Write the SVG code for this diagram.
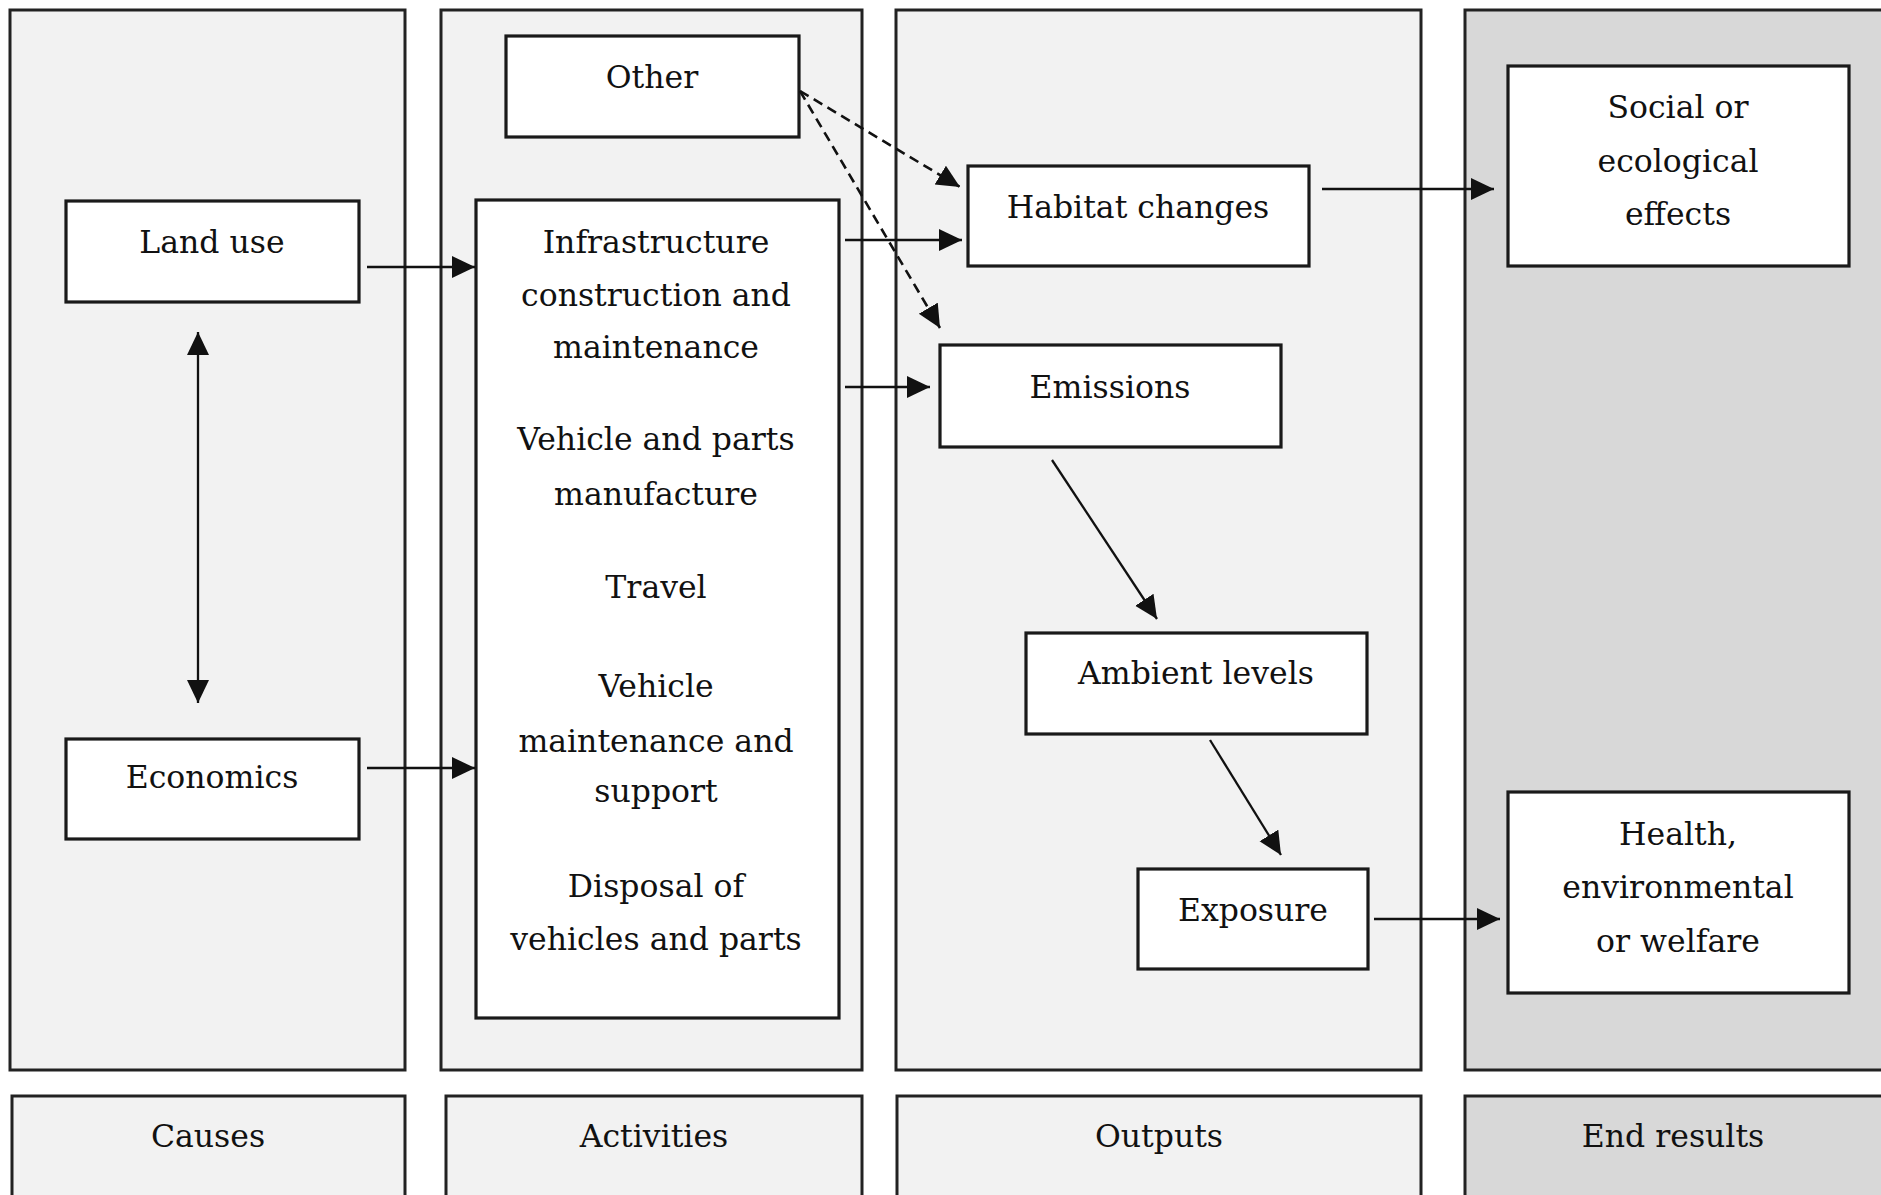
<svg xmlns="http://www.w3.org/2000/svg" width="1881" height="1195" viewBox="0 0 1881 1195">
<style>
.panel{fill:#f2f2f2;stroke:#222;stroke-width:3}
.panel.dark{fill:#d8d8d8}
.box{fill:#fff;stroke:#1a1a1a;stroke-width:3.2}
text{font-family:"DejaVu Serif","Liberation Serif",serif;font-size:31.5px;fill:#111;text-anchor:middle}
.conn{fill:none;stroke:#111;stroke-width:2.3}
.dash{stroke-dasharray:10 6;stroke-width:2.6}
</style>
<defs>
<marker id="ah" markerUnits="userSpaceOnUse" markerWidth="24" markerHeight="24" refX="23" refY="11" orient="auto-start-reverse" viewBox="0 0 24 24">
<path d="M0,0 L23,11 L0,22 z" fill="#111"/>
</marker>
</defs>
<rect width="1881" height="1195" fill="#fff"/>
<g id="panels">
<rect class="panel" x="10" y="10" width="395" height="1060"/>
<rect class="panel" x="441" y="10" width="421" height="1060"/>
<rect class="panel" x="896" y="10" width="525" height="1060"/>
<rect class="panel dark" x="1465" y="10" width="430" height="1060"/>
</g>
<g id="labels">
<g id="lbl-causes"><rect class="panel" x="12" y="1096" width="393" height="110"/><text x="208" y="1147">Causes</text></g>
<g id="lbl-activities"><rect class="panel" x="446" y="1096" width="416" height="110"/><text x="654" y="1147">Activities</text></g>
<g id="lbl-outputs"><rect class="panel" x="897" y="1096" width="524" height="110"/><text x="1159" y="1147">Outputs</text></g>
<g id="lbl-end"><rect class="panel dark" x="1465" y="1096" width="430" height="110"/><text x="1673" y="1147">End results</text></g>
</g>
<g id="landuse"><rect class="box" x="66" y="201" width="293" height="101"/><text x="212" y="253">Land use</text></g>
<g id="economics"><rect class="box" x="66" y="739" width="293" height="100"/><text x="212" y="788">Economics</text></g>
<g id="other"><rect class="box" x="506" y="36" width="293" height="101"/><text x="652" y="88">Other</text></g>
<g id="activities"><rect class="box" x="476" y="200" width="363" height="818"/>
<text x="656" y="253">Infrastructure</text>
<text x="656" y="306">construction and</text>
<text x="656" y="358">maintenance</text>
<text x="656" y="450">Vehicle and parts</text>
<text x="656" y="505">manufacture</text>
<text x="656" y="598">Travel</text>
<text x="656" y="697">Vehicle</text>
<text x="656" y="752">maintenance and</text>
<text x="656" y="802">support</text>
<text x="656" y="897">Disposal of</text>
<text x="656" y="950">vehicles and parts</text>
</g>
<g id="habitat"><rect class="box" x="968" y="166" width="341" height="100"/><text x="1138" y="218">Habitat changes</text></g>
<g id="emissions"><rect class="box" x="940" y="345" width="341" height="102"/><text x="1110" y="398">Emissions</text></g>
<g id="ambient"><rect class="box" x="1026" y="633" width="341" height="101"/><text x="1196" y="684">Ambient levels</text></g>
<g id="exposure"><rect class="box" x="1138" y="869" width="230" height="100"/><text x="1253" y="921">Exposure</text></g>
<g id="social"><rect class="box" x="1508" y="66" width="341" height="200"/>
<text x="1678" y="118">Social or</text><text x="1678" y="172">ecological</text><text x="1678" y="225">effects</text></g>
<g id="health"><rect class="box" x="1508" y="792" width="341" height="201"/>
<text x="1678" y="845">Health,</text><text x="1678" y="898">environmental</text><text x="1678" y="952">or welfare</text></g>
<g id="connectors">
<path class="conn" d="M367,267 L475,267" marker-end="url(#ah)"/>
<path class="conn" d="M367,768 L475,768" marker-end="url(#ah)"/>
<path class="conn" d="M198,332 L198,703" marker-start="url(#ah)" marker-end="url(#ah)"/>
<path class="conn" d="M845,240 L962,240" marker-end="url(#ah)"/>
<path class="conn" d="M845,387 L930,387" marker-end="url(#ah)"/>
<path class="conn dash" d="M800,91 L960,187" marker-end="url(#ah)"/>
<path class="conn dash" d="M800,91 L940,328" marker-end="url(#ah)"/>
<path class="conn" d="M1052,460 L1157,619" marker-end="url(#ah)"/>
<path class="conn" d="M1210,740 L1281,855" marker-end="url(#ah)"/>
<path class="conn" d="M1322,189 L1494,189" marker-end="url(#ah)"/>
<path class="conn" d="M1374,919 L1500,919" marker-end="url(#ah)"/>
</g>
</svg>
